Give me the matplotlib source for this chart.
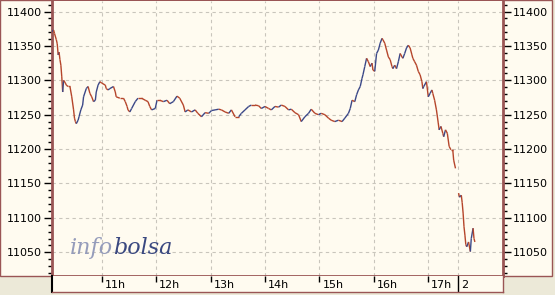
import numpy as np
import matplotlib.pyplot as plt
import matplotlib.transforms as mtransforms
from matplotlib.collections import LineCollection
from matplotlib.patches import Rectangle

# day 1: minutes after 10:00 and index value
day1_min = [5, 7, 8, 10, 11, 12, 13, 14, 15, 16, 17, 18, 20, 21, 23, 25, 27, 29, 30, 31,
            32, 34, 35, 37, 39, 40, 43, 45, 47, 49, 51, 53, 54, 56, 58, 60, 64, 65, 67, 69,
            73, 75, 76, 80, 84, 86, 88, 89, 91, 93, 97, 100, 104, 108, 111, 113, 115, 119, 121, 124,
            128, 132, 135, 139, 143, 146, 150, 152, 155, 159, 163, 166, 170, 174, 178, 181, 185, 189, 192, 196,
            200, 203, 207, 211, 214, 218, 222, 225, 229, 233, 236, 240, 244, 247, 251, 255, 258, 262, 266, 269,
            273, 277, 280, 284, 288, 291, 295, 299, 302, 306, 310, 313, 317, 321, 325, 328, 332, 334, 336, 339,
            341, 343, 345, 347, 348, 350, 352, 354, 356, 358, 359, 361, 363, 365, 367, 369, 370, 372, 374, 376,
            378, 380, 381, 383, 385, 387, 389, 391, 392, 394, 396, 398, 400, 402, 403, 405, 407, 409, 411, 413,
            414, 415, 418, 420, 422, 424, 425, 427, 429, 431, 432, 434, 436, 437, 439, 441, 443, 445, 447, 448,
            450]
day1_px = [11371, 11373, 11368, 11359, 11353, 11337, 11341, 11330, 11322, 11305, 11283, 11300, 11296, 11293, 11291, 11291, 11276, 11257, 11245, 11240,
           11237, 11242, 11247, 11257, 11264, 11276, 11288, 11291, 11281, 11276, 11269, 11271, 11283, 11293, 11298, 11296, 11293, 11288, 11286, 11288,
           11291, 11283, 11276, 11274, 11274, 11269, 11262, 11257, 11254, 11259, 11269, 11274, 11274, 11271, 11269, 11262, 11257, 11259, 11271, 11271,
           11269, 11271, 11266, 11269, 11277, 11274, 11264, 11254, 11257, 11254, 11257, 11252, 11247, 11253, 11252, 11256, 11257, 11258, 11257, 11254,
           11252, 11257, 11247, 11247, 11252, 11257, 11262, 11264, 11264, 11263, 11259, 11262, 11259, 11257, 11262, 11261, 11264, 11262, 11257, 11258,
           11253, 11250, 11240, 11247, 11252, 11258, 11252, 11250, 11252, 11250, 11245, 11242, 11240, 11242, 11240, 11245, 11252, 11259, 11271, 11269,
           11279, 11286, 11291, 11303, 11308, 11320, 11332, 11327, 11320, 11325, 11315, 11313, 11339, 11344, 11354, 11361, 11359, 11354, 11344, 11334,
           11330, 11320, 11317, 11322, 11317, 11327, 11339, 11334, 11332, 11339, 11347, 11351, 11347, 11337, 11332, 11327, 11322, 11313, 11308, 11298,
           11288, 11291, 11298, 11276, 11281, 11286, 11281, 11271, 11257, 11238, 11228, 11233, 11223, 11218, 11228, 11223, 11204, 11199, 11199, 11184,
           11172]

# day 2: minutes after the open
day2_min = [1, 2, 4, 5, 6, 7, 8, 9, 10, 12, 14, 15, 17, 18, 19]
day2_px = [11136, 11130, 11133, 11122, 11107, 11087, 11075, 11061, 11058, 11065, 11051, 11070, 11085, 11070, 11065]

hour_ticks = [11, 12, 13, 14, 15, 16, 17]
hour_labels = ['11h', '12h', '13h', '14h', '15h', '16h', '17h']
next_day_label = '2'
price_ticks = [11050, 11100, 11150, 11200, 11250, 11300, 11350, 11400]

CREAM = '#fffbf0'
GRAY = '#ece9d8'
BROWN = '#9a5555'
RED = '#b5452b'
BLUE = '#3b4888'

t_break = 17.54
t1 = 10 + np.array(day1_min) / 60
t2 = t_break + np.array(day2_min) / 60

W, H = 555, 295
fig = plt.figure(figsize=(W / 100, H / 100), dpi=100, facecolor=GRAY)

# cream panel behind labels and plot
fig.patches.append(Rectangle((0, (H - 276) / H), 552 / W, 276 / H, transform=fig.transFigure,
                             facecolor=CREAM, edgecolor=BROWN, linewidth=1, zorder=-1))

ax = fig.add_axes([52 / W, (H - 276) / H, 451 / W, 275 / H])
ax.set_facecolor(CREAM)
ax.set_xlim(10.087, 18.373)
ax.set_ylim(11015.5, 11415.3)


def draw_day(t, p):
    p = np.array(p, dtype=float)
    pts = np.column_stack([t, p]).reshape(-1, 1, 2)
    segs = np.concatenate([pts[:-1], pts[1:]], axis=1)
    cols = np.where(np.diff(p) > 0, BLUE, RED)
    ax.add_collection(LineCollection(segs, colors=cols, linewidths=1.0, zorder=3))


draw_day(t1, day1_px)
draw_day(t2, day2_px)

ax.set_xticks(hour_ticks + [t_break])
ax.tick_params(axis='x', length=0, labelbottom=False)
ax.set_yticks(price_ticks)
ax.set_yticks(np.arange(11020, 11415, 10), minor=True)
ax.tick_params(axis='y', which='both', left=True, right=True, labelleft=True, labelright=True,
               direction='out', colors='black', labelsize=8)
ax.tick_params(axis='y', which='major', length=6, width=1, pad=1)
ax.tick_params(axis='y', which='minor', length=3, width=1)
ax.grid(True, color='#c9c5bc', linestyle=(0, (3, 3)), linewidth=0.8)
for s in ['left', 'right', 'bottom']:
    ax.spines[s].set_color(BROWN)
    ax.spines[s].set_linewidth(2)
ax.spines['top'].set_visible(False)

# logo
r = fig.canvas.get_renderer()
logo_font = dict(family='DejaVu Serif', style='italic', fontsize=16)
lg = ax.text(18 / 451, 22 / 275, 'info', color='#959cbb', va='baseline', transform=ax.transAxes, **logo_font)
w = lg.get_window_extent(r).width
ax.text(18 / 451, 22 / 275, 'bolsa', color='#3a4880', va='baseline',
        transform=mtransforms.offset_copy(ax.transAxes, fig=fig, x=w, y=0, units='dots'), **logo_font)

# bottom time band
bx = fig.add_axes([52 / W, (H - 292) / H, 451 / W, 16 / H], sharex=ax)
bx.set_facecolor(CREAM)
bx.set_ylim(0, 1)
bx.set_yticks([])
bx.tick_params(axis='x', length=0, labelbottom=False)
bx.spines['top'].set_visible(False)
bx.spines['left'].set_color('black')
bx.spines['left'].set_linewidth(1.5)
for s in ['right', 'bottom']:
    bx.spines[s].set_color(BROWN)
    bx.spines[s].set_linewidth(1)
bx.vlines(hour_ticks, 0.62, 1, color='black', linewidth=1)
bx.axvline(t_break, color='black', linewidth=1)
lab_tr = mtransforms.offset_copy(bx.transData, fig=fig, x=3, y=0, units='dots')
for h, lab in zip(hour_ticks, hour_labels):
    bx.text(h, 0.42, lab, ha='left', va='center', fontsize=8, transform=lab_tr)
bx.text(t_break, 0.42, next_day_label, ha='left', va='center', fontsize=8, transform=lab_tr)

fig.savefig('out.png', dpi=100, facecolor=GRAY)
